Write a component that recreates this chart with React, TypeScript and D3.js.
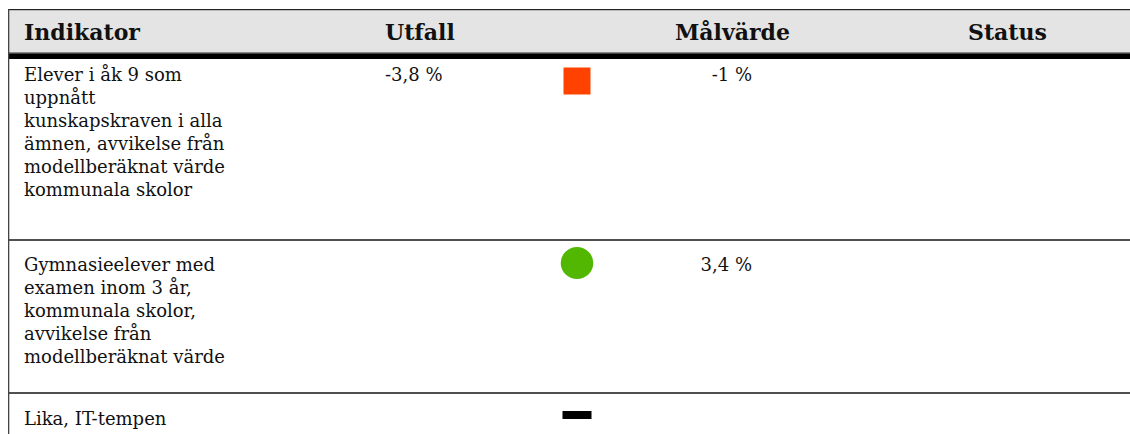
import React from "react";
import * as d3 from "d3";

// ---- data ----
const columns = ["Indikator", "Utfall", "Målvärde", "Status"];
const indicatorLines = [
  [
    "Elever i åk 9 som",
    "uppnått",
    "kunskapskraven i alla",
    "ämnen, avvikelse från",
    "modellberäknat värde",
    "kommunala skolor",
  ],
  [
    "Gymnasieelever med",
    "examen inom 3 år,",
    "kommunala skolor,",
    "avvikelse från",
    "modellberäknat värde",
  ],
  ["Lika, IT-tempen"],
];
const outcomes = ["-3,8 %", "", ""];
const targets = ["-1 %", "3,4 %", ""];
const statusKinds = ["square", "circle", "dash"];

// ---- layout ----
const W = 1130;
const H = 434;
const TABLE_LEFT = 8;
const TABLE_TOP = 9;
const HEADER_BOTTOM = 59;
const ROW_HEIGHTS = [181, 152, 160];
const LINE_H = 23;
const FONT = "'DejaVu Serif', Georgia, serif";
const BODY_SIZE = 18;

export default function App() {
  const colX = d3
    .scaleOrdinal<string, number>()
    .domain(columns)
    .range([24, 385, 675, 968]);
  const valueRight = 752;
  const iconX = 577;

  const rowTops: number[] = [];
  let acc = HEADER_BOTTOM;
  ROW_HEIGHTS.forEach((h, i) => {
    rowTops.push(acc);
    acc += h + (i === 0 ? 1 : 2);
  });
  const firstBaseline = rowTops.map((t, i) => (i === 0 ? t + 22 : t + 30));

  const lineY = d3.scaleLinear().domain([0, 1]).range([0, LINE_H]);

  // icon centre relative to the first baseline of its row
  const iconCenterOffset: Record<string, number> = {
    square: 0,
    circle: -8,
    dash: -10,
  };

  return (
    <svg
      width={W}
      height={H}
      style={{ position: "absolute", left: 0, top: 0, display: "block" }}
    >
      <rect x={0} y={0} width={W} height={H} fill="#fff" />
      {/* header */}
      <rect x={TABLE_LEFT} y={TABLE_TOP} width={W - TABLE_LEFT} height={1.5} fill="#222" />
      <rect
        x={TABLE_LEFT}
        y={TABLE_TOP + 1.5}
        width={W - TABLE_LEFT}
        height={52 - TABLE_TOP - 1.5}
        fill="#e4e4e4"
      />
      <rect x={TABLE_LEFT} y={52} width={W - TABLE_LEFT} height={1.3} fill="#8a8a8a" />
      <rect x={TABLE_LEFT} y={53.3} width={W - TABLE_LEFT} height={5.7} fill="#000" />
      {columns.map((c) => (
        <text
          key={c}
          x={colX(c)}
          y={40}
          fontFamily={FONT}
          fontWeight="bold"
          fontSize={22}
          fill="#111"
        >
          {c}
        </text>
      ))}
      {/* rows */}
      {indicatorLines.map((lines, r) => {
        const top = rowTops[r];
        const base = firstBaseline[r];
        const kind = statusKinds[r];
        const cy = base + iconCenterOffset[kind];
        return (
          <g key={r}>
            {lines.map((ln, i) => (
              <text
                key={i}
                x={colX("Indikator")}
                y={base + lineY(i)}
                fontFamily={FONT}
                fontSize={BODY_SIZE}
                fill="#111"
              >
                {ln}
              </text>
            ))}
            {outcomes[r] && (
              <text
                x={colX("Utfall")}
                y={base}
                fontFamily={FONT}
                fontSize={BODY_SIZE}
                fill="#111"
              >
                {outcomes[r]}
              </text>
            )}
            {targets[r] && (
              <text
                x={valueRight}
                y={base}
                textAnchor="end"
                fontFamily={FONT}
                fontSize={BODY_SIZE}
                fill="#111"
              >
                {targets[r]}
              </text>
            )}
            {kind === "square" && (
              <rect x={iconX - 13.5} y={cy - 13.5} width={27} height={27} fill="#ff4200" />
            )}
            {kind === "circle" && (
              <ellipse cx={iconX} cy={cy} rx={16.3} ry={16} fill="#52b700" />
            )}
            {kind === "dash" && (
              <rect x={iconX - 14.5} y={cy - 4} width={29} height={8} fill="#000" />
            )}
            {r < indicatorLines.length - 1 && (
              <rect
                x={TABLE_LEFT}
                y={top + ROW_HEIGHTS[r] - 1}
                width={W - TABLE_LEFT}
                height={2}
                fill="#505050"
              />
            )}
          </g>
        );
      })}
      {/* left border */}
      <rect x={TABLE_LEFT} y={TABLE_TOP} width={1.3} height={H - TABLE_TOP} fill="#444" />
    </svg>
  );
}
